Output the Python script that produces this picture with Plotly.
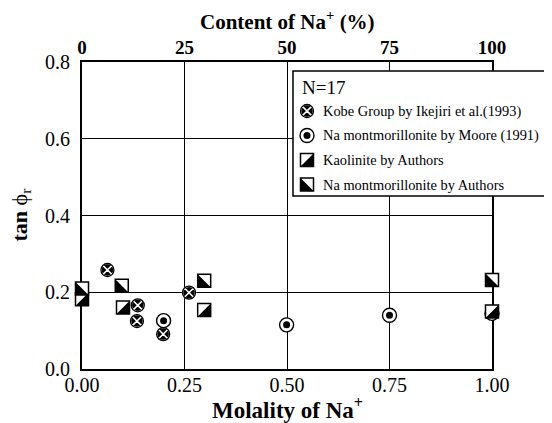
import plotly.graph_objects as go

# ---------------- data ----------------
kobe_x = [0.062, 0.136, 0.134, 0.198, 0.261]
kobe_y = [0.258, 0.166, 0.125, 0.091, 0.199]

moore_x = [0.199, 0.499, 0.750, 1.000]
moore_y = [0.126, 0.115, 0.140, 0.145]

kaol_x = [0.000, 0.100, 0.298, 1.000]
kaol_y = [0.182, 0.160, 0.154, 0.150]

namont_x = [0.000, 0.097, 0.298, 1.000]
namont_y = [0.210, 0.217, 0.230, 0.232]

molality_ticks = [0.0, 0.25, 0.50, 0.75, 1.00]
content_ticks = [0, 25, 50, 75, 100]
tan_ticks = [0.0, 0.2, 0.4, 0.6, 0.8]

legend_title = "N=17"
legend_labels = [
    "Kobe Group by Ikejiri et al.(1993)",
    "Na montmorillonite by Moore (1991)",
    "Kaolinite by Authors",
    "Na montmorillonite by Authors",
]

# ---------------- layout geometry ----------------
W, H = 552, 423            # browser window
OFF = 8                    # default page (body) margin
FW, FH = W - OFF, H - OFF  # figure size so that it fits in the window


def fx(px):   # window pixel -> paper x
    return (px - OFF) / FW


def fy(py):   # window pixel -> paper y
    return 1 - (py - OFF) / FH


PL, PR, PT, PB = 82, 492, 62, 369          # plot box in window pixels
XR = [0.0, 1.0]
YR = [0.0, 0.8]
FONT = "Liberation Serif"

SQ = 13                       # square marker size
TRI = SQ / 0.9                # right-triangle marker size that fills half the square
d = 0.3 * TRI / 2             # centre offset of plotly's right-triangle symbols (px)

xdom = [fx(PL), fx(PR)]
ydom = [fy(PB), fy(PT)]
# same-scale helper subplots shifted by d px (right / left / down)
xdom_r = [fx(PL + d), fx(PR + d)]
xdom_l = [fx(PL - d), fx(PR - d)]
ydom_d = [fy(PB + d), fy(PT + d)]

fig = go.Figure()

# Kobe group: black disc with white X + black ring
fig.add_trace(go.Scatter(x=kobe_x, y=kobe_y, mode="markers", cliponaxis=False,
                         marker=dict(symbol="circle-x", size=13, color="black",
                                     line=dict(color="white", width=1.5)),
                         showlegend=False, hoverinfo="skip"))
fig.add_trace(go.Scatter(x=kobe_x, y=kobe_y, mode="markers", cliponaxis=False,
                         marker=dict(symbol="circle-open", size=13, color="black",
                                     line=dict(width=1.3)),
                         showlegend=False, hoverinfo="skip"))
# Moore: ring with dot
fig.add_trace(go.Scatter(x=moore_x, y=moore_y, mode="markers", cliponaxis=False,
                         marker=dict(symbol="circle", size=14, color="white",
                                     line=dict(color="black", width=1.4)),
                         showlegend=False, hoverinfo="skip"))
fig.add_trace(go.Scatter(x=moore_x, y=moore_y, mode="markers", cliponaxis=False,
                         marker=dict(symbol="circle", size=7, color="black",
                                     line=dict(width=0)),
                         showlegend=False, hoverinfo="skip"))
# squares
for xs, ys in ((kaol_x, kaol_y), (namont_x, namont_y)):
    fig.add_trace(go.Scatter(x=xs, y=ys, mode="markers", cliponaxis=False,
                             marker=dict(symbol="square", size=SQ, color="white",
                                         line=dict(color="black", width=1.5)),
                             showlegend=False, hoverinfo="skip"))
# top axis (content %) carrier trace, invisible
fig.add_trace(go.Scatter(x=[v * 100 for v in kaol_x], y=kaol_y, xaxis="x2", yaxis="y",
                         mode="markers", marker=dict(opacity=0), showlegend=False,
                         hoverinfo="skip"))

# ---------------- custom legend on a full-figure helper subplot ----------------
lx = fx(307)
rows_px = [111, 135.5, 160, 184.5]
ry = [fy(r) for r in rows_px]
ddx, ddy = d / FW, d / FH


def leg(x, y, **mk):
    fig.add_trace(go.Scatter(x=x, y=y, xaxis="x3", yaxis="y3", mode="markers",
                             cliponaxis=False, marker=mk, showlegend=False,
                             hoverinfo="skip"))


leg([lx], [ry[0]], symbol="circle-x", size=13, color="black", line=dict(color="white", width=1.5))
leg([lx], [ry[0]], symbol="circle-open", size=13, color="black", line=dict(width=1.3))
leg([lx], [ry[1]], symbol="circle", size=14, color="white", line=dict(color="black", width=1.4))
leg([lx], [ry[1]], symbol="circle", size=7, color="black", line=dict(width=0))
leg([lx, lx], [ry[2], ry[3]], symbol="square", size=SQ, color="white",
    line=dict(color="black", width=1.5))
leg([lx + ddx], [ry[2] - ddy], symbol="triangle-se", size=TRI, color="black", line=dict(width=0))
leg([lx - ddx], [ry[3] - ddy], symbol="triangle-sw", size=TRI, color="black", line=dict(width=0))

# half-black triangles of the data (shifted same-scale subplots so they sit inside squares)
fig.add_trace(go.Scatter(x=kaol_x, y=kaol_y, xaxis="x4", yaxis="y4", mode="markers",
                         cliponaxis=False,
                         marker=dict(symbol="triangle-se", size=TRI, color="black",
                                     line=dict(width=0)),
                         showlegend=False, hoverinfo="skip"))
fig.add_trace(go.Scatter(x=namont_x, y=namont_y, xaxis="x5", yaxis="y5", mode="markers",
                         cliponaxis=False,
                         marker=dict(symbol="triangle-sw", size=TRI, color="black",
                                     line=dict(width=0)),
                         showlegend=False, hoverinfo="skip"))

annotations = [
    dict(text=legend_title, x=fx(300), y=fy(88), xref="paper", yref="paper",
         xanchor="left", yanchor="middle", showarrow=False,
         font=dict(family=FONT, size=19, color="black")),
]
for lab, yy in zip(legend_labels, ry):
    annotations.append(dict(text=lab, x=fx(321), y=yy, xref="paper", yref="paper",
                            xanchor="left", yanchor="middle", showarrow=False,
                            font=dict(family=FONT, size=14.4, color="black")))
# axis titles
annotations += [
    dict(text="<b>Content of Na<sup>+</sup> (%)</b>", x=fx((PL + PR) / 2), y=fy(21),
         xref="paper", yref="paper", showarrow=False, xanchor="center", yanchor="middle",
         font=dict(family=FONT, size=21, color="black")),
    dict(text="<b>Molality of Na<sup>+</sup></b>", x=fx((PL + PR) / 2), y=fy(408),
         xref="paper", yref="paper", showarrow=False, xanchor="center", yanchor="middle",
         font=dict(family=FONT, size=23, color="black")),
    dict(text="<b>tan</b> ϕ<sub>r</sub>", x=fx(20), y=fy((PT + PB) / 2),
         xref="paper", yref="paper", showarrow=False, textangle=-90,
         xanchor="center", yanchor="middle",
         font=dict(family=FONT, size=22, color="black")),
]

axis_common = dict(showline=True, linecolor="black", linewidth=2, mirror=True,
                   showgrid=True, gridcolor="black", gridwidth=1.3, zeroline=False,
                   ticks="", layer="below traces", automargin=False)
hidden = dict(visible=False, automargin=False, showgrid=False, zeroline=False)

fig.update_layout(
    template="none",
    width=FW, height=FH, autosize=False,
    margin=dict(l=0, r=0, t=0, b=0, pad=0),
    paper_bgcolor="white", plot_bgcolor="rgba(0,0,0,0)",
    font=dict(family=FONT, color="black"),
    showlegend=False,
    xaxis=dict(domain=xdom, range=XR, tickvals=molality_ticks, tickformat=".2f",
               tickfont=dict(family=FONT, size=20, color="black"),
               ticklabelstandoff=-3, **axis_common),
    yaxis=dict(domain=ydom, range=YR, tickvals=tan_ticks, tickformat=".1f",
               tickfont=dict(family=FONT, size=20, color="black"),
               ticklabelstandoff=6, **axis_common),
    xaxis2=dict(overlaying="x", side="top", range=[0, 100], tickvals=content_ticks,
                showgrid=False, zeroline=False, showline=False, ticks="", automargin=False,
                tickfont=dict(family=FONT, size=19, weight="bold", color="black"),
                ticklabelstandoff=3),
    xaxis3=dict(domain=[0, 1], range=[0, 1], anchor="y3", **hidden),
    yaxis3=dict(domain=[0, 1], range=[0, 1], anchor="x3", **hidden),
    xaxis4=dict(domain=xdom_r, range=XR, anchor="y4", **hidden),
    yaxis4=dict(domain=ydom_d, range=YR, anchor="x4", **hidden),
    xaxis5=dict(domain=xdom_l, range=XR, anchor="y5", **hidden),
    yaxis5=dict(domain=ydom_d, range=YR, anchor="x5", **hidden),
    shapes=[dict(type="rect", xref="x3", yref="y3", x0=fx(293), x1=fx(551),
                 y0=fy(196), y1=fy(71), fillcolor="white",
                 line=dict(color="black", width=1.5), layer="between")],
    annotations=annotations,
)

fig.write_html("out.html")
